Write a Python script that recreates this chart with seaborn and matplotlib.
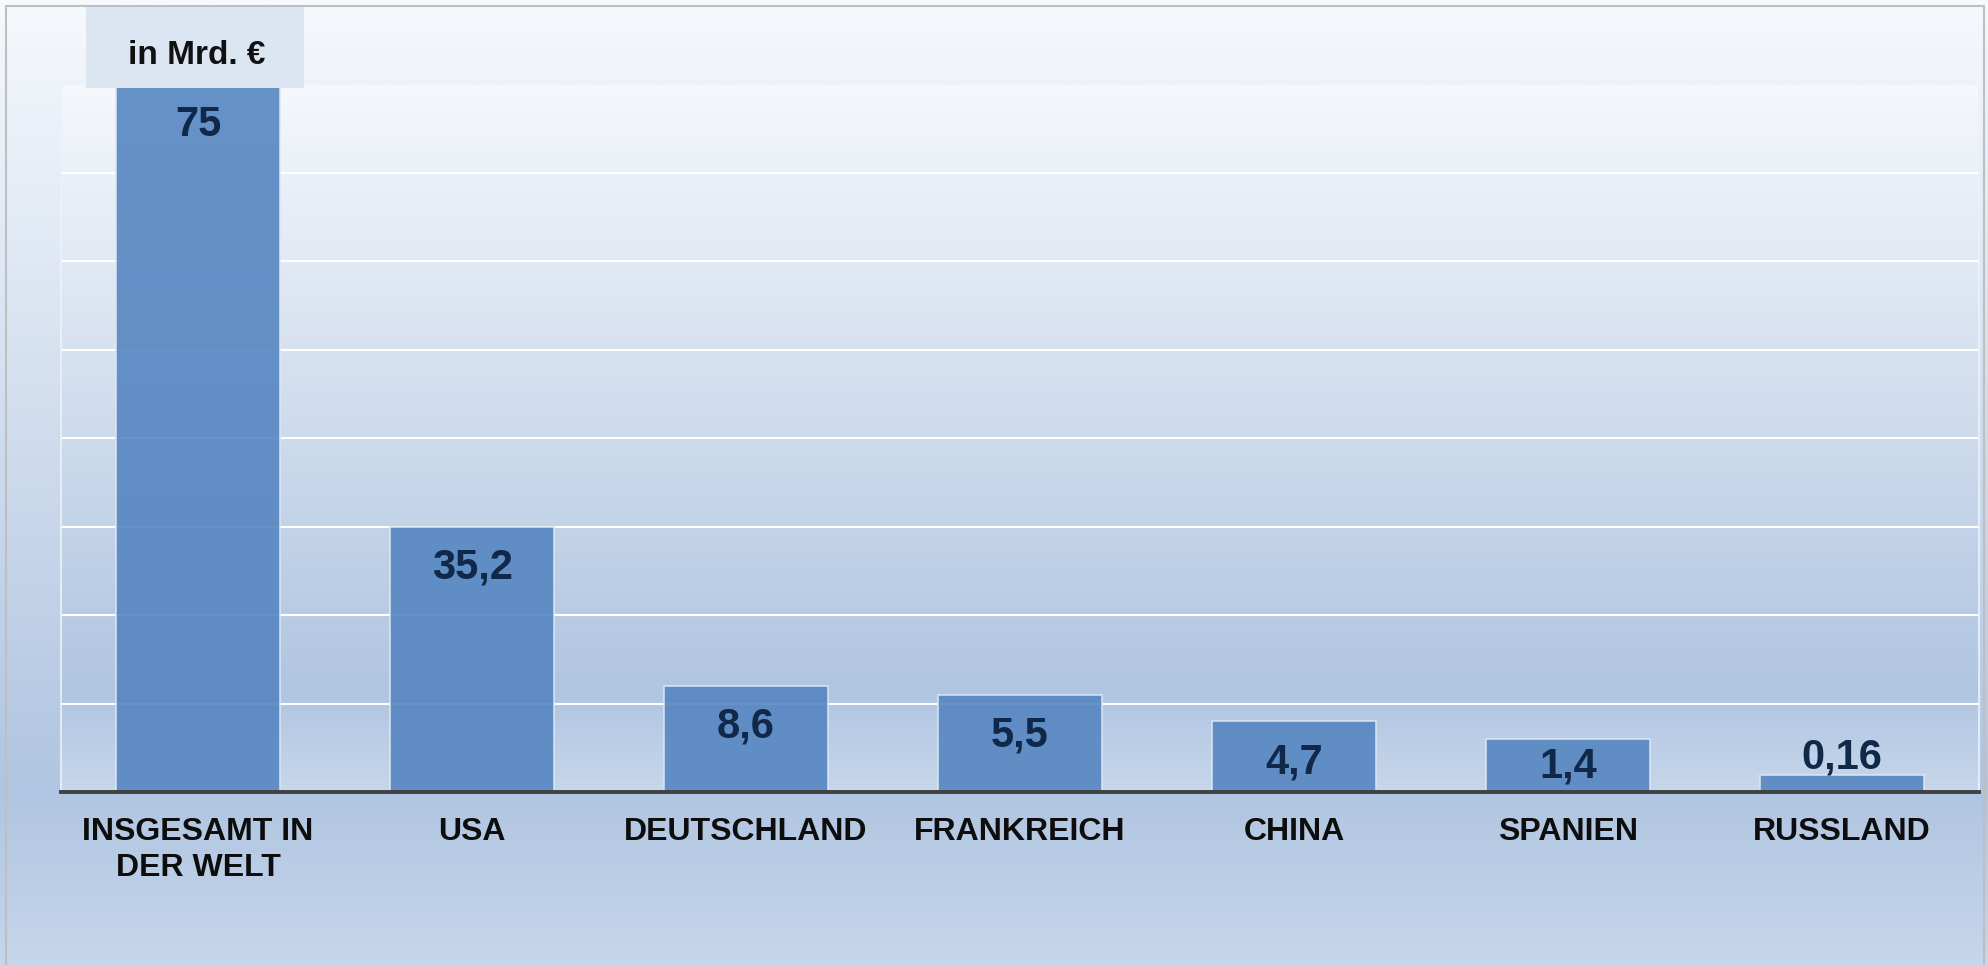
import numpy as np
import pandas as pd
import matplotlib
matplotlib.use("Agg")
import matplotlib.pyplot as plt
from matplotlib.colors import LinearSegmentedColormap
from matplotlib.patches import Rectangle
from matplotlib.lines import Line2D
import seaborn as sns

# ---- data ----
categories = ["INSGESAMT IN\nDER WELT", "USA", "DEUTSCHLAND", "FRANKREICH",
              "CHINA", "SPANIEN", "RUSSLAND"]
values = [75, 35.2, 8.6, 5.5, 4.7, 1.4, 0.16]            # printed values (Mrd. €)
bar_heights = [8.0, 3.0, 1.2, 1.1, 0.8, 0.6, 0.19]       # drawn heights (chart not to scale), gridline units
grid_ticks = [0, 1, 2, 3, 4, 5, 6, 7, 8]
unit_label = "in Mrd. €"

sns.set_theme(style="white")
plt.rcParams['font.family'] = ['Liberation Sans', 'DejaVu Sans']

W, H = 1988, 965
fig = plt.figure(figsize=(W / 100, H / 100), dpi=100)


def gradient(stops, n=512):
    cmap = LinearSegmentedColormap.from_list("g", stops)
    return cmap(np.linspace(0, 1, n))[:, None, :]


# figure background gradient
bg = fig.add_axes([0, 0, 1, 1], zorder=-10)
bg.imshow(gradient([(0, '#f6f9fd'), (0.82, '#b0c5e1'), (1, '#c6d6eb')]),
          aspect='auto', extent=[0, 1, 0, 1])
bg.set_xlim(0, 1)
bg.set_ylim(0, 1)
bg.axis('off')

# main axes
ax = fig.add_axes([61 / W, 1 - 792 / H, (1979 - 61) / W, (792 - 84) / H])
ax.patch.set_visible(False)

df = pd.DataFrame({"cat": categories, "h": bar_heights})
sns.barplot(data=df, x="cat", y="h", color='#5686c1', saturation=1, alpha=0.9,
            width=0.6, edgecolor='#dde7f3', linewidth=1.2, errorbar=None, ax=ax)

ax.imshow(gradient([(0, '#f5f8fc'), (0.86, '#b0c5e1'), (1, '#c7d7eb')]),
          aspect='auto', extent=[0, 1, 0, 1], transform=ax.transAxes, zorder=0)

ax.set_xlim(-0.5, len(categories) - 0.5)
ax.set_ylim(grid_ticks[0], grid_ticks[-1])
ax.set_yticks(grid_ticks)
ax.set_yticklabels([])
ax.yaxis.grid(True, color='white', lw=1.5)
ax.xaxis.grid(False)
ax.set_axisbelow(True)
ax.set_xlabel('')
ax.set_ylabel('')
ax.tick_params(axis='both', length=0)
ax.tick_params(axis='x', pad=18)
for lbl in ax.get_xticklabels():
    lbl.set_fontsize(23)
    lbl.set_fontweight('bold')
    lbl.set_color('#0d0d0d')
    lbl.set_linespacing(1.25)

for side in ['left', 'top', 'right']:
    ax.spines[side].set_color('#eef2f7')
    ax.spines[side].set_linewidth(1.2)
ax.spines['bottom'].set_color('#404040')
ax.spines['bottom'].set_linewidth(2.8)

# value labels
ax_h_pt = ax.get_position().height * H / 100 * 72
unit_pt = ax_h_pt / (grid_ticks[-1] - grid_ticks[0])
for i, (v, h) in enumerate(zip(values, bar_heights)):
    txt = f"{v:g}".replace('.', ',')
    bar_pt = h * unit_pt
    if bar_pt >= 30:
        off = max(-29.5, 18 - bar_pt)
    else:
        off = 13
    ax.annotate(txt, (i, h), xytext=(0, off), textcoords='offset points',
                ha='center', va='center', fontsize=30, fontweight='bold',
                color='#10294a', zorder=5, annotation_clip=False)

# unit box
fig.patches.append(Rectangle((86 / W, 1 - 88 / H), 218 / W, 82 / H,
                             transform=fig.transFigure, facecolor='#dce6f2',
                             edgecolor='none', zorder=5))
fig.text(197 / W, 1 - 56 / H, unit_label, ha='center', va='center',
         fontsize=24, fontweight='bold', color='#111111', zorder=6)

# outer border
bc = '#bfbfbf'
fig.add_artist(Line2D([6 / W, 6 / W], [0, 1 - 6 / H], transform=fig.transFigure, color=bc, lw=1.5, zorder=7))
fig.add_artist(Line2D([6 / W, 1984 / W], [1 - 6 / H, 1 - 6 / H], transform=fig.transFigure, color=bc, lw=1.5, zorder=7))
fig.add_artist(Line2D([1984 / W, 1984 / W], [0, 1 - 6 / H], transform=fig.transFigure, color=bc, lw=1.5, zorder=7))

fig.savefig('out.png', dpi=100)
